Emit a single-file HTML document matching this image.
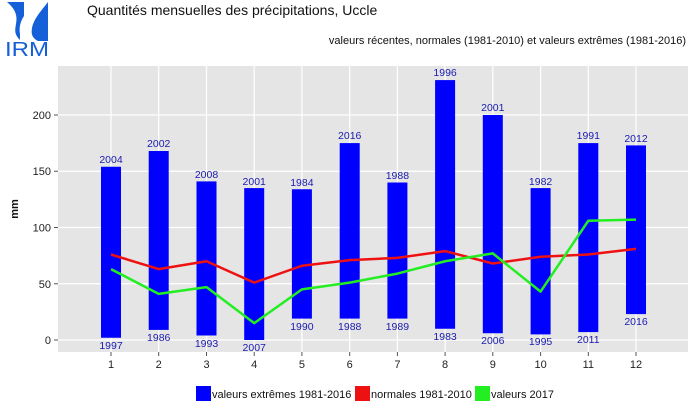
<!DOCTYPE html>
<html><head><meta charset="utf-8"><style>body{margin:0;background:#fff}svg{display:block;font-family:"Liberation Sans",sans-serif}</style></head><body>
<svg width="700" height="420" viewBox="0 0 700 420">
<rect width="700" height="420" fill="#fff"/>
<!-- logo -->
<path d="M7,2 C14,8 18,14 16,24 C15,30 14,34 20,40 L20,34 C19,28 20,22 24,16 L24,2 Z" fill="#1560d8"/>
<path d="M48,2 C42,10 34,18 32,28 C31,34 32,38 38,41 L48,41 Z" fill="#1560d8"/>
<text x="5" y="56" font-size="20" fill="#1560d8" textLength="44" lengthAdjust="spacingAndGlyphs">IRM</text>
<text x="87" y="15" font-size="14" fill="#111">Quantités mensuelles des précipitations, Uccle</text>
<text x="686" y="44" font-size="11" fill="#111" text-anchor="end">valeurs récentes, normales (1981-2010) et valeurs extrêmes (1981-2016)</text>
<!-- plot bg -->
<rect x="58" y="66" width="630" height="286" fill="#e5e5e5"/>
<g stroke="#fff" stroke-width="1.2">
<line x1="58" x2="688" y1="340" y2="340"/><line x1="58" x2="688" y1="283.75" y2="283.75"/><line x1="58" x2="688" y1="227.5" y2="227.5"/><line x1="58" x2="688" y1="171.25" y2="171.25"/><line x1="58" x2="688" y1="115" y2="115"/>
<line x1="111" x2="111" y1="66" y2="352"/><line x1="158.7" x2="158.7" y1="66" y2="352"/><line x1="206.5" x2="206.5" y1="66" y2="352"/><line x1="254.2" x2="254.2" y1="66" y2="352"/><line x1="301.9" x2="301.9" y1="66" y2="352"/><line x1="349.7" x2="349.7" y1="66" y2="352"/><line x1="397.4" x2="397.4" y1="66" y2="352"/><line x1="445.1" x2="445.1" y1="66" y2="352"/><line x1="492.8" x2="492.8" y1="66" y2="352"/><line x1="540.6" x2="540.6" y1="66" y2="352"/><line x1="588.3" x2="588.3" y1="66" y2="352"/><line x1="636" x2="636" y1="66" y2="352"/>
</g>
<!-- axes ticks -->
<g stroke="#555" stroke-width="1">
<line x1="54" x2="58" y1="340" y2="340"/><line x1="54" x2="58" y1="283.75" y2="283.75"/><line x1="54" x2="58" y1="227.5" y2="227.5"/><line x1="54" x2="58" y1="171.25" y2="171.25"/><line x1="54" x2="58" y1="115" y2="115"/>
<line x1="111" x2="111" y1="352" y2="356"/><line x1="158.7" x2="158.7" y1="352" y2="356"/><line x1="206.5" x2="206.5" y1="352" y2="356"/><line x1="254.2" x2="254.2" y1="352" y2="356"/><line x1="301.9" x2="301.9" y1="352" y2="356"/><line x1="349.7" x2="349.7" y1="352" y2="356"/><line x1="397.4" x2="397.4" y1="352" y2="356"/><line x1="445.1" x2="445.1" y1="352" y2="356"/><line x1="492.8" x2="492.8" y1="352" y2="356"/><line x1="540.6" x2="540.6" y1="352" y2="356"/><line x1="588.3" x2="588.3" y1="352" y2="356"/><line x1="636" x2="636" y1="352" y2="356"/>
</g>
<g font-size="11" fill="#222" text-anchor="end">
<text x="51" y="344">0</text><text x="51" y="288">50</text><text x="51" y="231.5">100</text><text x="51" y="175">150</text><text x="51" y="119">200</text>
</g>
<g font-size="11" fill="#222" text-anchor="middle">
<text x="111" y="368">1</text><text x="158.7" y="368">2</text><text x="206.5" y="368">3</text><text x="254.2" y="368">4</text><text x="301.9" y="368">5</text><text x="349.7" y="368">6</text><text x="397.4" y="368">7</text><text x="445.1" y="368">8</text><text x="492.8" y="368">9</text><text x="540.6" y="368">10</text><text x="588.3" y="368">11</text><text x="636" y="368">12</text>
</g>
<text x="18" y="209" font-size="11" font-weight="bold" fill="#111" text-anchor="middle" transform="rotate(-90 18 209)">mm</text>
<!-- bars -->
<g fill="#0000ff">
<rect x="101" y="166.75" width="20" height="171"/>
<rect x="148.7" y="151" width="20" height="178.9"/>
<rect x="196.5" y="181.4" width="20" height="154.1"/>
<rect x="244.2" y="188.1" width="20" height="151.9"/>
<rect x="291.9" y="189.25" width="20" height="129.35"/>
<rect x="339.7" y="143.1" width="20" height="175.5"/>
<rect x="387.4" y="182.5" width="20" height="136.1"/>
<rect x="435.1" y="80.1" width="20" height="248.65"/>
<rect x="482.8" y="115" width="20" height="218.25"/>
<rect x="530.6" y="188.1" width="20" height="146.3"/>
<rect x="578.3" y="143.1" width="20" height="189"/>
<rect x="626" y="145.4" width="20" height="168.7"/>
</g>
<polyline fill="none" stroke="#ee1111" stroke-width="2.5" stroke-linejoin="round" points="111,254.5 158.7,269.1 206.5,261.25 254.2,282.6 301.9,265.75 349.7,260.1 397.4,257.9 445.1,251.1 492.8,263.5 540.6,256.75 588.3,254.5 636,248.9"/>
<polyline fill="none" stroke="#22ee22" stroke-width="2.5" stroke-linejoin="round" points="111,269.1 158.7,293.9 206.5,287.1 254.2,323.1 301.9,289.4 349.7,282.6 397.4,273.6 445.1,261.25 492.8,253.4 540.6,291.6 588.3,220.75 636,219.6"/>
<g font-size="10.5" fill="#1a1ab0" text-anchor="middle">
<text x="111" y="163">2004</text><text x="111" y="349">1997</text>
<text x="158.7" y="147">2002</text><text x="158.7" y="341">1986</text>
<text x="206.5" y="178">2008</text><text x="206.5" y="347">1993</text>
<text x="254.2" y="185">2001</text><text x="254.2" y="351">2007</text>
<text x="301.9" y="186">1984</text><text x="301.9" y="330">1990</text>
<text x="349.7" y="139">2016</text><text x="349.7" y="330">1988</text>
<text x="397.4" y="179">1988</text><text x="397.4" y="330">1989</text>
<text x="445.1" y="76">1996</text><text x="445.1" y="340">1983</text>
<text x="492.8" y="111">2001</text><text x="492.8" y="344">2006</text>
<text x="540.6" y="185">1982</text><text x="540.6" y="345">1995</text>
<text x="588.3" y="139">1991</text><text x="588.3" y="343">2011</text>
<text x="636" y="142">2012</text><text x="636" y="325">2016</text>
</g>
<!-- legend -->
<rect x="196" y="386" width="15" height="15" fill="#0000ff"/>
<text x="212" y="398" font-size="11" fill="#111">valeurs extrêmes 1981-2016</text>
<rect x="355" y="386" width="15" height="15" fill="#ee1111"/>
<text x="371" y="398" font-size="11" fill="#111">normales 1981-2010</text>
<rect x="475" y="386" width="15" height="15" fill="#22ee22"/>
<text x="491" y="398" font-size="11" fill="#111">valeurs 2017</text>
</svg>
</body></html>
